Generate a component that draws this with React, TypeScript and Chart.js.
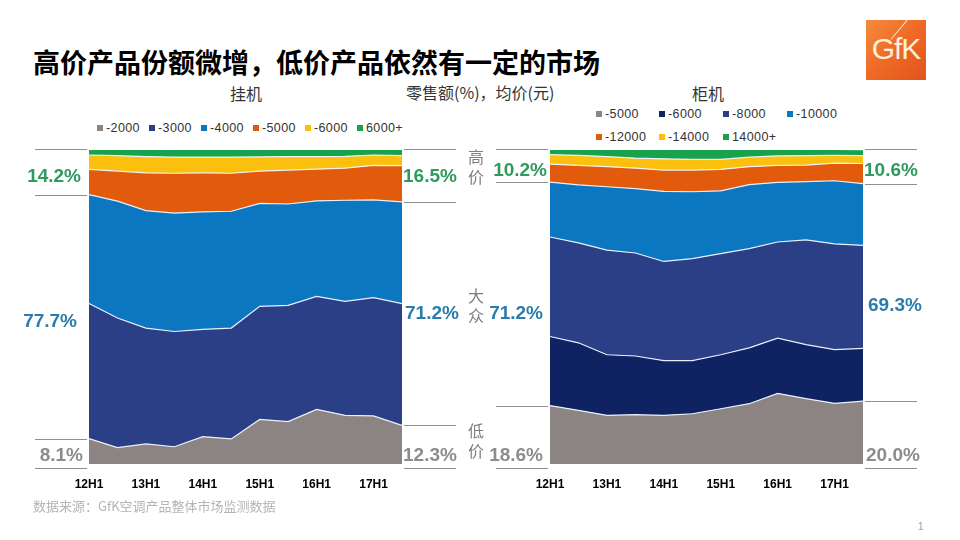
import React, { useEffect, useRef } from "react";
import { Chart, registerables } from "chart.js";

Chart.register(...registerables);

// ---------- data ----------
const periods = ["12H1", "12H2", "13H1", "13H2", "14H1", "14H2", "15H1", "15H2", "16H1", "16H2", "17H1", "17H2"];

// 挂机 (wall units), share of retail value %
const wallSeriesNames = ["-2000", "-3000", "-4000", "-5000", "-6000", "6000+"];
const wall2000 = [8.1, 5.2, 6.4, 5.5, 8.7, 8.0, 14.2, 13.5, 17.4, 15.5, 15.3, 12.3];
const wall3000 = [43.0, 41.3, 36.9, 36.7, 34.2, 35.3, 36.0, 37.0, 36.0, 36.3, 37.7, 38.8];
const wall4000 = [34.7, 37.2, 37.4, 37.7, 37.4, 37.2, 32.8, 32.3, 30.4, 32.2, 31.1, 32.4];
const wall5000 = [8.0, 9.6, 12.0, 12.7, 12.4, 12.1, 10.3, 10.8, 10.1, 10.2, 11.0, 11.5];
const wall6000 = [4.6, 4.9, 5.2, 5.1, 5.0, 5.1, 4.5, 4.3, 4.0, 3.8, 3.3, 3.2];
const wall6000p = [1.6, 1.8, 2.1, 2.3, 2.3, 2.3, 2.2, 2.1, 2.1, 2.0, 1.6, 1.8];

// 柜机 (floor units)
const floorSeriesNames = ["-5000", "-6000", "-8000", "-10000", "-12000", "-14000", "14000+"];
const floor5000 = [18.6, 17.1, 15.5, 15.7, 15.5, 16.0, 17.6, 19.2, 22.5, 20.8, 19.3, 20.0];
const floor6000 = [22.0, 21.5, 19.3, 18.7, 17.4, 16.9, 17.2, 17.8, 17.6, 17.2, 17.1, 16.8];
const floor8000 = [31.7, 31.8, 33.3, 32.8, 31.6, 32.5, 32.2, 31.6, 30.6, 33.4, 33.7, 32.8];
const floor10000 = [17.5, 18.5, 20.2, 20.5, 22.3, 21.3, 20.0, 20.4, 19.0, 18.5, 20.1, 19.7];
const floor12000 = [5.7, 6.2, 6.4, 6.5, 6.8, 6.9, 6.8, 5.7, 5.4, 5.3, 5.6, 6.4];
const floor14000 = [3.0, 3.2, 3.2, 3.2, 3.6, 3.4, 3.2, 3.0, 3.0, 3.0, 2.5, 2.5];
const floor14000p = [1.5, 1.7, 2.1, 2.6, 2.8, 3.0, 3.0, 2.3, 1.9, 1.8, 1.7, 1.7];

const wallData = [wall2000, wall3000, wall4000, wall5000, wall6000, wall6000p];
const floorData = [floor5000, floor6000, floor8000, floor10000, floor12000, floor14000, floor14000p];

// segment groups: number of series in 低价 / 大众 (rest = 高价)
const wallGroups = [1, 2];
const floorGroups = [1, 3];

// ---------- styles ----------
const GRAY = "#8b8482";
const NAVY = "#0f2262";
const DBLUE = "#2a3f86";
const BLUE = "#0a77c0";
const ORANGE = "#e25a0b";
const YELLOW = "#fbbf0e";
const GREEN = "#19a24e";

const wallColors = [GRAY, DBLUE, BLUE, ORANGE, YELLOW, GREEN];
const floorColors = [GRAY, NAVY, DBLUE, BLUE, ORANGE, YELLOW, GREEN];

const LBL_GREEN = "#2e9a5e";
const LBL_BLUE = "#2a7dab";
const LBL_GRAY = "#8c8c8c";

const CANVAS_H = 372;

const sumAt = (series: number[][], from: number, to: number, i: number) => {
  let s = 0;
  for (let k = from; k < to; k++) s += series[k][i];
  return s;
};

const bracketPlugin = {
  id: "brackets",
  afterDraw(chart: any, _args: any, opts: any) {
    const { ctx, chartArea, scales } = chart;
    const ys = scales.y;
    const series: number[][] = opts.series;
    const groups: number[] = opts.groups;
    const n = series[0].length;
    ctx.save();
    ctx.strokeStyle = "#8f8f8f";
    ctx.lineWidth = 1.2;
    [0, n - 1].forEach((idx) => {
      const low = sumAt(series, 0, groups[0], idx);
      const mid = sumAt(series, 0, groups[0] + groups[1], idx);
      const levels: [number, number][] = [
        [100, -1],
        [mid, 0],
        [low, 0],
        [0, 4],
      ];
      const x1 = idx === 0 ? chartArea.left - 54 : chartArea.right + 2;
      const x2 = x1 + 52;
      levels.forEach(([v, off]) => {
        const py = Math.round(ys.getPixelForValue(v) + off) + 0.5;
        ctx.beginPath();
        ctx.moveTo(x1, py);
        ctx.lineTo(x2, py);
        ctx.stroke();
      });
    });
    ctx.restore();
  },
};

function AreaChart(props: {
  series: number[][];
  names: string[];
  colors: string[];
  groups: number[];
  padLeft: number;
  padRight: number;
  style: React.CSSProperties;
}) {
  const ref = useRef<HTMLCanvasElement | null>(null);
  useEffect(() => {
    if (!ref.current) return;
    const last = props.series.length - 1;
    const chart = new Chart(ref.current, {
      type: "line",
      data: {
        labels: periods,
        datasets: props.series.map((d, i) => ({
          label: props.names[i],
          data: d,
          backgroundColor: props.colors[i],
          borderColor: "rgba(240,245,255,0.95)",
          borderWidth: i === last ? 0 : 1.2,
          fill: i === 0 ? "origin" : "-1",
          pointRadius: 0,
          tension: 0,
        })),
      },
      options: {
        animation: false,
        responsive: false,
        layout: { padding: { left: props.padLeft, right: props.padRight, top: 10, bottom: 7.6 } },
        plugins: {
          legend: { display: false },
          tooltip: { enabled: false },
          brackets: { series: props.series, groups: props.groups },
        } as any,
        scales: {
          x: {
            type: "category",
            offset: false,
            grid: { display: false, drawTicks: false },
            border: { display: false },
            ticks: {
              autoSkip: false,
              maxRotation: 0,
              padding: 13,
              color: "#000",
              font: { family: "'Liberation Sans Narrow', 'Liberation Sans', Arial, sans-serif", size: 12, weight: "bold" },
              callback: function (this: any, val: any) {
                const l = this.getLabelForValue(val) as string;
                return l.endsWith("H1") ? l : "";
              },
            },
          },
          y: {
            stacked: true,
            min: 0,
            max: 100,
            display: false,
          },
        },
      },
      plugins: [bracketPlugin],
    });
    return () => chart.destroy();
  }, []);
  return <canvas ref={ref} width={480} height={CANVAS_H} style={{ position: "absolute", width: 480, height: CANVAS_H, ...props.style }} />;
}

const pctFont: React.CSSProperties = {
  position: "absolute",
  fontFamily: "'Liberation Sans', Arial, sans-serif",
  fontWeight: "bold",
  fontSize: 19,
  lineHeight: "20px",
  whiteSpace: "nowrap",
};

function Pct(props: { text: string; color: string; y: number; left?: number; right?: number }) {
  const st: React.CSSProperties = { ...pctFont, color: props.color, top: props.y - 10 };
  if (props.left !== undefined) st.left = props.left;
  if (props.right !== undefined) st.right = 960 - props.right;
  return <div style={st}>{props.text}</div>;
}

const fmt = (v: number) => (Math.round(v * 10) / 10).toFixed(1) + "%";

function groupShares(series: number[][], groups: number[], idx: number) {
  const low = sumAt(series, 0, groups[0], idx);
  const mid = sumAt(series, groups[0], groups[0] + groups[1], idx);
  const high = sumAt(series, groups[0] + groups[1], series.length, idx);
  return { low, mid, high };
}

function Legend(props: { names: string[]; colors: string[]; style: React.CSSProperties }) {
  return (
    <div style={{ position: "absolute", fontFamily: "'Liberation Sans', Arial, sans-serif", fontSize: 12.5, lineHeight: "14px", color: "#333", letterSpacing: 0.4, ...props.style }}>
      {props.names.map((n, i) => (
        <div key={n} style={{ display: "flex", alignItems: "center", whiteSpace: "nowrap" }}>
          <span style={{ display: "inline-block", width: 6, height: 6, background: props.colors[i], marginRight: 3 }} />
          {n}
        </div>
      ))}
    </div>
  );
}

const vertStyle: React.CSSProperties = {
  position: "absolute",
  left: 466,
  width: 20,
  textAlign: "center",
  fontFamily: "'Noto Sans CJK SC', sans-serif",
  fontSize: 16,
  lineHeight: "20px",
  color: "#7f7f7f",
};

export default function App() {
  const n = periods.length;
  const wS = groupShares(wallData, wallGroups, 0);
  const wE = groupShares(wallData, wallGroups, n - 1);
  const fS = groupShares(floorData, floorGroups, 0);
  const fE = groupShares(floorData, floorGroups, n - 1);
  return (
    <div style={{ position: "absolute", left: 0, top: 0, width: 960, height: 540, background: "#fff", overflow: "hidden", fontFamily: "'Noto Sans CJK SC', sans-serif" }}>
      <div style={{ position: "absolute", left: 33, top: 44, fontSize: 27, fontWeight: "bold", lineHeight: "36px", color: "#000", whiteSpace: "nowrap" }}>
        高价产品份额微增，低价产品依然有一定的市场
      </div>
      {/* GfK logo */}
      <div style={{ position: "absolute", left: 866, top: 20, width: 60, height: 60, background: "linear-gradient(135deg, #f58a3c 0%, #ee6a26 50%, #e2531c 100%)", overflow: "hidden" }}>
        <div style={{ position: "absolute", left: 0, top: 12, width: 60, textAlign: "center", color: "#fdf1dc", fontFamily: "'Liberation Sans', Arial, sans-serif", fontSize: 30, lineHeight: "34px", letterSpacing: -1 }}>GfK</div>
        <div style={{ position: "absolute", left: 44, top: -4, width: 1.2, height: 30, background: "#fde7cf", transform: "rotate(40deg)", transformOrigin: "top left" }} />
      </div>

      <div style={{ position: "absolute", left: 230, top: 82, fontSize: 16, lineHeight: "22px", color: "#333" }}>挂机</div>
      <div style={{ position: "absolute", left: 406, top: 81, fontSize: 16, lineHeight: "22px", color: "#333", whiteSpace: "nowrap" }}>零售额(%)，均价(元)</div>
      <div style={{ position: "absolute", left: 692, top: 82, fontSize: 16, lineHeight: "22px", color: "#333" }}>柜机</div>

      <Legend names={wallSeriesNames} colors={wallColors} style={{ left: 97, top: 121, display: "flex", gap: 9 }} />
      <Legend names={floorSeriesNames} colors={floorColors} style={{ left: 596, top: 107, display: "grid", gridTemplateColumns: "63px 64px 64px auto", rowGap: 9 }} />

      <AreaChart series={wallData} names={wallSeriesNames} colors={wallColors} groups={wallGroups} padLeft={89} padRight={78} style={{ left: 0, top: 140 }} />
      <AreaChart series={floorData} names={floorSeriesNames} colors={floorColors} groups={floorGroups} padLeft={70} padRight={97} style={{ left: 480, top: 140 }} />

      {/* left chart labels */}
      <Pct text={fmt(wS.high)} color={LBL_GREEN} y={176} right={81} />
      <Pct text={fmt(wS.mid)} color={LBL_BLUE} y={321} right={77} />
      <Pct text={fmt(wS.low)} color={LBL_GRAY} y={455} right={83} />
      <Pct text={fmt(wE.high)} color={LBL_GREEN} y={176} left={403} />
      <Pct text={fmt(wE.mid)} color={LBL_BLUE} y={313} left={405} />
      <Pct text={fmt(wE.low)} color={LBL_GRAY} y={455} left={403} />

      {/* right chart labels */}
      <Pct text={fmt(fS.high)} color={LBL_GREEN} y={170} right={547} />
      <Pct text={fmt(fS.mid)} color={LBL_BLUE} y={313} right={543} />
      <Pct text={fmt(fS.low)} color={LBL_GRAY} y={455} right={543} />
      <Pct text={fmt(fE.high)} color={LBL_GREEN} y={170} left={864} />
      <Pct text={fmt(fE.mid)} color={LBL_BLUE} y={305} left={868} />
      <Pct text={fmt(fE.low)} color={LBL_GRAY} y={455} left={866} />

      <div style={{ ...vertStyle, top: 146 }}>高<br />价</div>
      <div style={{ ...vertStyle, top: 285 }}>大<br />众</div>
      <div style={{ ...vertStyle, top: 420 }}>低<br />价</div>

      <div style={{ position: "absolute", left: 33, top: 497, fontSize: 13, lineHeight: "18px", color: "#b4b4b4", whiteSpace: "nowrap" }}>
        数据来源：GfK空调产品整体市场监测数据
      </div>
      <div style={{ position: "absolute", left: 918, top: 520, fontSize: 10, lineHeight: "14px", color: "#9a9a9a", fontFamily: "'Liberation Sans', Arial, sans-serif" }}>1</div>
    </div>
  );
}
